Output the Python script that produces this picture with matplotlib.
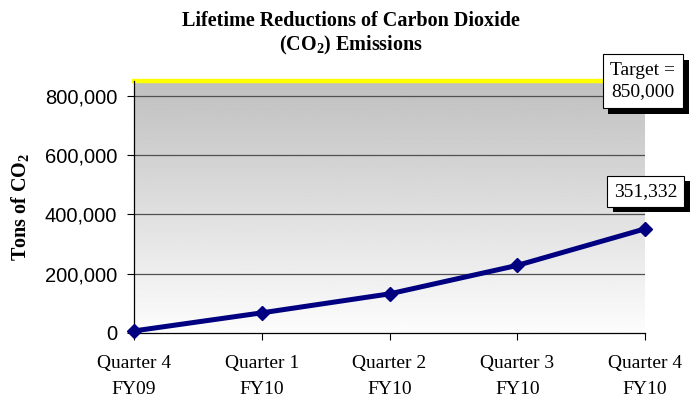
import matplotlib.pyplot as plt
import matplotlib.patheffects as pe
import numpy as np

quarters = ["Quarter 4\nFY09", "Quarter 1\nFY10", "Quarter 2\nFY10", "Quarter 3\nFY10", "Quarter 4\nFY10"]
co2_tons = [7000, 68000, 132000, 228000, 351332]
target = 850000
y_ticks = [0, 200000, 400000, 600000, 800000]

serif = "Liberation Serif"
sans = "Liberation Sans"
plt.rcParams["mathtext.default"] = "regular"

fig = plt.figure(figsize=(6.97, 4), dpi=100)
ax = fig.add_axes([0.1923, 0.1675, 0.7331, 0.63])

x = np.arange(len(quarters))

# gray at top fading to white at the bottom
grad = np.linspace(0.75, 0.99, 256).reshape(-1, 1)
ax.imshow(grad, cmap="gray", vmin=0, vmax=1, aspect="auto",
          extent=[0, 1, 0, 1], transform=ax.transAxes, zorder=0)

ax.set_xlim(0, len(quarters) - 1)
ax.set_ylim(0, target)

for t in y_ticks[1:]:
    ax.axhline(t, color="#505050", lw=0.9, zorder=1)

ax.axhline(target, color="#ffff00", lw=3.2, zorder=2, clip_on=False)

ax.plot(x, co2_tons, color="#000080", lw=3.6, marker="D", markersize=7, zorder=3, clip_on=False)

ax.set_yticks(y_ticks)
ax.set_yticklabels([f"{v:,}" for v in y_ticks], fontfamily=sans, fontsize=14.5)
ax.set_xticks(x)
ax.set_xticklabels(quarters, fontfamily=serif, fontsize=14, linespacing=1.7)
ax.tick_params(axis="x", length=5, direction="out", pad=11)
ax.tick_params(axis="y", length=5, direction="out", pad=7)

for s in ["top", "right"]:
    ax.spines[s].set_visible(False)
for s in ["left", "bottom"]:
    ax.spines[s].set_color("black")
    ax.spines[s].set_linewidth(0.9)

ax.set_ylabel("Tons of CO$_2$", fontfamily=serif, fontweight="bold", fontsize=14.5, labelpad=10)
fig.text(0.504, 0.9475, "Lifetime Reductions of Carbon Dioxide", ha="center", va="center",
         fontfamily=serif, fontweight="bold", fontsize=14.5)
fig.text(0.504, 0.887, "(CO$_2$) Emissions", ha="center", va="center",
         fontfamily=serif, fontweight="bold", fontsize=14.5)

shadow = [pe.SimplePatchShadow(offset=(4, -4), shadow_rgbFace="black", alpha=1), pe.Normal()]

t1 = ax.annotate(f"Target =\n{target:,}", (x[-1], target), xytext=(-1.5, 0), textcoords="offset points",
                 ha="center", va="center", fontfamily=serif, fontsize=14, linespacing=1.35,
                 bbox=dict(boxstyle="square,pad=0.4", fc="white", ec="black", lw=0.8),
                 annotation_clip=False, zorder=5)
t1.get_bbox_patch().set_path_effects(shadow)

t2 = ax.annotate(f"{co2_tons[-1]:,}", (x[-1], co2_tons[-1]), xytext=(0.5, 27), textcoords="offset points",
                 ha="center", va="center", fontfamily=serif, fontsize=14,
                 bbox=dict(boxstyle="square,pad=0.36", fc="white", ec="black", lw=0.8),
                 annotation_clip=False, zorder=5)
t2.get_bbox_patch().set_path_effects(shadow)

fig.savefig("out.png", dpi=100)
